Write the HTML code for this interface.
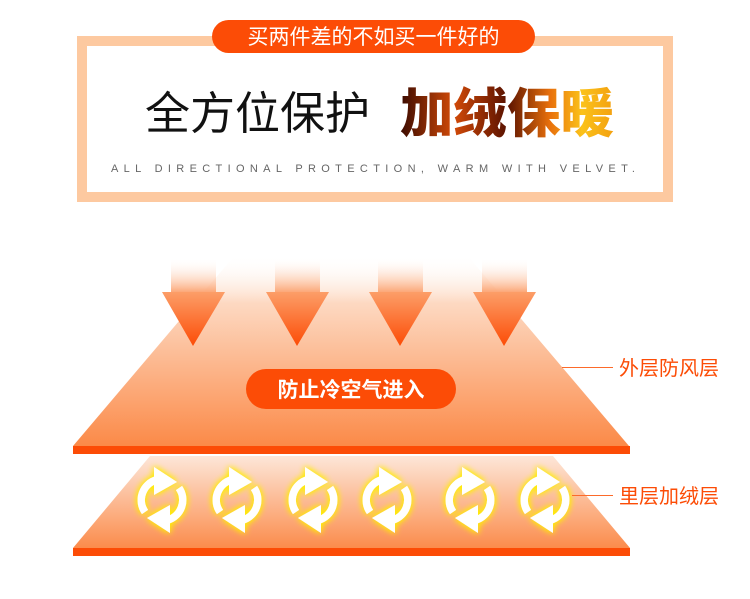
<!DOCTYPE html>
<html><head><meta charset="utf-8"><style>
html,body{margin:0;padding:0;background:#fff;width:750px;height:599px;overflow:hidden}
svg{display:block}
</style></head><body>
<svg width="750" height="599" viewBox="0 0 750 599" xmlns="http://www.w3.org/2000/svg">
<defs>
<linearGradient id="trap" x1="0" y1="0" x2="0" y2="1">
<stop offset="0" stop-color="#fff" stop-opacity="0"/>
<stop offset="0.25" stop-color="#fdd9c2"/>
<stop offset="1" stop-color="#fb8a48"/>
</linearGradient>
<linearGradient id="trap2" x1="0" y1="0" x2="0" y2="1">
<stop offset="0" stop-color="#fde6d8"/>
<stop offset="1" stop-color="#fb8c4c"/>
</linearGradient>
<linearGradient id="shaft" x1="0" y1="0" x2="0" y2="1">
<stop offset="0" stop-color="#fff" stop-opacity="0"/>
<stop offset="1" stop-color="#fca878"/>
</linearGradient>
<linearGradient id="head" x1="0" y1="0" x2="0" y2="1">
<stop offset="0" stop-color="#fc9e68"/>
<stop offset="1" stop-color="#fc4c06"/>
</linearGradient>
<linearGradient id="fire" x1="0" y1="0" x2="1" y2="0">
<stop offset="0" stop-color="#3a0a00"/>
<stop offset="0.25" stop-color="#d24a08"/>
<stop offset="0.5" stop-color="#5a1200"/>
<stop offset="0.7" stop-color="#e8700c"/>
<stop offset="0.85" stop-color="#fbc21a"/>
<stop offset="1" stop-color="#f3a010"/>
</linearGradient>
<filter id="glow" x="-60%" y="-60%" width="220%" height="220%">
<feGaussianBlur in="SourceAlpha" stdDeviation="3.5" result="b"/>
<feFlood flood-color="#ffee00"/>
<feComposite in2="b" operator="in" result="g"/>
<feMerge><feMergeNode in="g"/><feMergeNode in="g"/><feMergeNode in="SourceGraphic"/></feMerge>
</filter>
<g id="cyc" filter="url(#glow)">
<path d="M-6,-20 A21,21 0 0 0 -17,12" fill="none" stroke="#fff" stroke-width="7.5"/>
<path d="M6,20 A21,21 0 0 0 17,-12" fill="none" stroke="#fff" stroke-width="7.5"/>
<polygon points="-8,-33 15,-18 -8,-5" fill="#fff"/>
<polygon points="8,33 -15,18 8,5" fill="#fff"/>
</g>
</defs>

<rect x="82" y="41" width="586" height="156" fill="#fff" stroke="#fdc9a0" stroke-width="10"/>
<rect x="212" y="20" width="323" height="33" rx="16.5" fill="#fc4c06"/>
<text x="373.5" y="44" font-family="Liberation Sans,Noto Sans CJK SC,sans-serif" font-size="21" fill="#fff" text-anchor="middle">买两件差的不如买一件好的</text>
<text x="145" y="129" font-family="Liberation Sans,Noto Sans CJK SC,sans-serif" font-size="45" fill="#111">全方位保护</text>
<text x="400" y="132" font-family="Liberation Sans,Noto Sans CJK SC,sans-serif" font-size="53" font-weight="900" fill="url(#fire)" textLength="214" lengthAdjust="spacingAndGlyphs">加绒保暖</text>
<text x="111" y="172" font-family="Liberation Sans,sans-serif" font-size="11" fill="#666" textLength="524" lengthAdjust="spacing">ALL DIRECTIONAL PROTECTION, WARM WITH VELVET.</text>

<polygon points="235,255 467,255 629,446 73,446" fill="url(#trap)"/>
<rect x="73" y="446" width="557" height="8" fill="#fc4c06"/>
<g>
<rect x="171" y="258" width="45" height="34" fill="url(#shaft)"/>
<polygon points="162,292 225,292 193,346" fill="url(#head)"/>
<rect x="275" y="258" width="45" height="34" fill="url(#shaft)"/>
<polygon points="266,292 329,292 297,346" fill="url(#head)"/>
<rect x="378" y="258" width="45" height="34" fill="url(#shaft)"/>
<polygon points="369,292 432,292 400,346" fill="url(#head)"/>
<rect x="482" y="258" width="45" height="34" fill="url(#shaft)"/>
<polygon points="473,292 536,292 504,346" fill="url(#head)"/>
</g>
<rect x="246" y="369" width="210" height="40" rx="20" fill="#fc4c06"/>
<text x="351" y="397" font-family="Liberation Sans,Noto Sans CJK SC,sans-serif" font-size="21" font-weight="bold" fill="#fff" text-anchor="middle">防止冷空气进入</text>

<polygon points="150,456 553,456 630,548 73,548" fill="url(#trap2)"/>
<rect x="73" y="548" width="557" height="8" fill="#fc4c06"/>
<use href="#cyc" x="162" y="500"/>
<use href="#cyc" x="237" y="500"/>
<use href="#cyc" x="313" y="500"/>
<use href="#cyc" x="387" y="500"/>
<use href="#cyc" x="470" y="500"/>
<use href="#cyc" x="545" y="500"/>

<line x1="562" y1="367.5" x2="613" y2="367.5" stroke="#fc6a2a" stroke-width="1"/>
<text x="619" y="375" font-family="Liberation Sans,Noto Sans CJK SC,sans-serif" font-size="20" fill="#fc4c06">外层防风层</text>
<line x1="572" y1="495.5" x2="613" y2="495.5" stroke="#fc6a2a" stroke-width="1"/>
<text x="619" y="503" font-family="Liberation Sans,Noto Sans CJK SC,sans-serif" font-size="20" fill="#fc4c06">里层加绒层</text>
</svg>
</body></html>
